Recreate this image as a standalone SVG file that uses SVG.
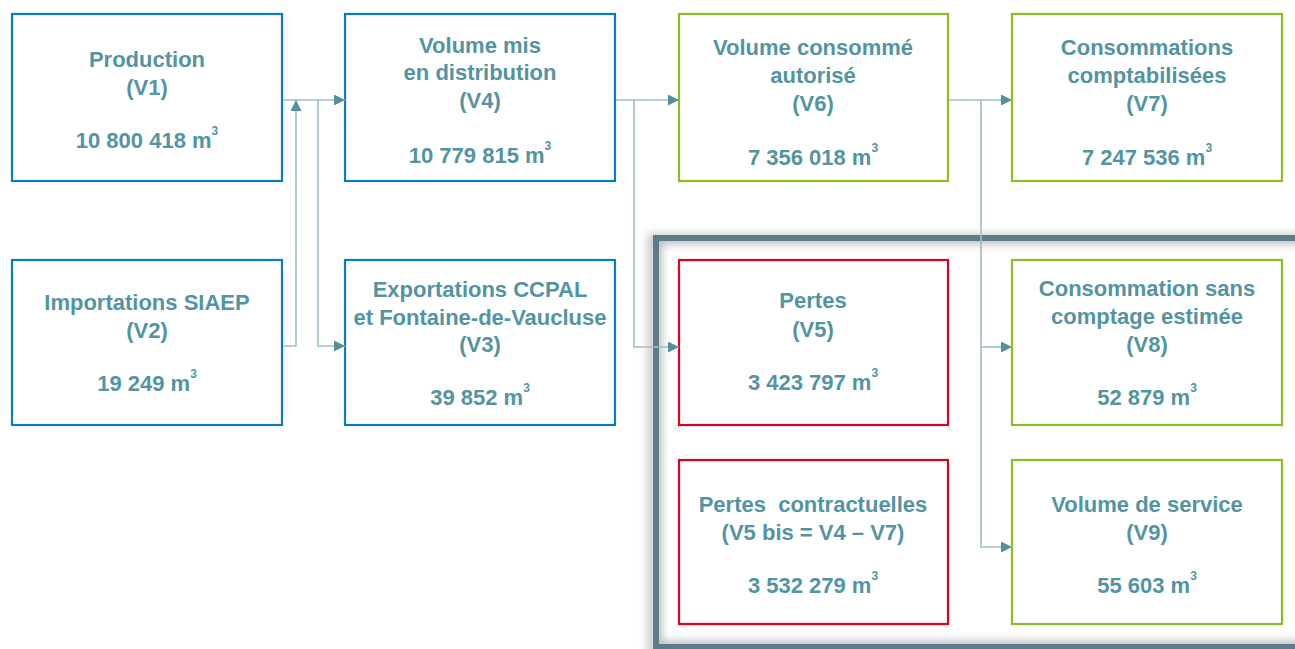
<svg xmlns="http://www.w3.org/2000/svg" width="1295" height="649" viewBox="0 0 1295 649">
<style>
.box{fill:#fff;stroke-width:2.2}
.blue{stroke:#0a7cc1}
.green{stroke:#8cbb25}
.red{stroke:#e2001a}
text{font-family:"Liberation Sans",Arial,sans-serif;font-size:22px;font-weight:bold;fill:#5294a1;text-anchor:middle}
.sup{font-size:12px}
.con{fill:none;stroke:#9cc0c8;stroke-width:1.6}
</style>
<defs>
<marker id="ah" markerUnits="userSpaceOnUse" markerWidth="13" markerHeight="13" refX="11" refY="5.5" orient="auto">
<path d="M0,0 L11,5.5 L0,11 Z" fill="#54909c"/>
</marker>
<filter id="blur" x="-10%" y="-10%" width="120%" height="120%"><feGaussianBlur stdDeviation="4"/></filter>
<clipPath id="inner"><rect x="659" y="241" width="640" height="403"/></clipPath>
<clipPath id="outer"><path d="M0,0 H1295 V649 H0 Z M656,238 H1300 V650 H656 Z" clip-rule="evenodd"/></clipPath>
</defs>
<rect width="1295" height="649" fill="#fff"/>
<g id="frame">
<rect x="652" y="238" width="660" height="420" fill="none" stroke="#999" stroke-width="8" filter="url(#blur)" clip-path="url(#outer)" opacity="0.6"/>
<rect x="656" y="238" width="660" height="409" fill="#fff" stroke="none"/>
<rect x="656" y="238" width="660" height="409" fill="none" stroke="#bbb" stroke-width="12" filter="url(#blur)" clip-path="url(#inner)"/>
<rect x="656" y="238" width="660" height="409" fill="none" stroke="#5d7b89" stroke-width="6"/>
</g>
<g id="v1">
<rect class="box blue" x="12" y="14" width="270" height="167"/>
<text x="147" y="67">Production</text>
<text x="147" y="95">(V1)</text>
<text x="147" y="148">10 800 418 m<tspan class="sup" dy="-13">3</tspan></text>
</g>
<g id="v2">
<rect class="box blue" x="12" y="260" width="270" height="165"/>
<text x="147" y="310">Importations SIAEP</text>
<text x="147" y="338">(V2)</text>
<text x="147" y="391">19 249 m<tspan class="sup" dy="-13">3</tspan></text>
</g>
<g id="v4">
<rect class="box blue" x="345" y="14" width="270" height="167"/>
<text x="480" y="53">Volume mis</text>
<text x="480" y="80">en distribution</text>
<text x="480" y="108">(V4)</text>
<text x="480" y="163">10 779 815 m<tspan class="sup" dy="-13">3</tspan></text>
</g>
<g id="v3">
<rect class="box blue" x="345" y="260" width="270" height="165"/>
<text x="480" y="297">Exportations CCPAL</text>
<text x="480" y="325">et Fontaine-de-Vaucluse</text>
<text x="480" y="352">(V3)</text>
<text x="480" y="405">39 852 m<tspan class="sup" dy="-13">3</tspan></text>
</g>
<g id="v6">
<rect class="box green" x="679" y="14" width="269" height="167"/>
<text x="813" y="55">Volume consommé</text>
<text x="813" y="83">autorisé</text>
<text x="813" y="111">(V6)</text>
<text x="813" y="165">7 356 018 m<tspan class="sup" dy="-13">3</tspan></text>
</g>
<g id="v7">
<rect class="box green" x="1012" y="14" width="270" height="167"/>
<text x="1147" y="55">Consommations</text>
<text x="1147" y="83">comptabilisées</text>
<text x="1147" y="111">(V7)</text>
<text x="1147" y="165">7 247 536 m<tspan class="sup" dy="-13">3</tspan></text>
</g>
<g id="v5">
<rect class="box red" x="679" y="260" width="269" height="165"/>
<text x="813" y="308">Pertes</text>
<text x="813" y="337">(V5)</text>
<text x="813" y="390">3 423 797 m<tspan class="sup" dy="-13">3</tspan></text>
</g>
<g id="v8">
<rect class="box green" x="1012" y="260" width="270" height="165"/>
<text x="1147" y="296">Consommation sans</text>
<text x="1147" y="324">comptage estimée</text>
<text x="1147" y="352">(V8)</text>
<text x="1147" y="405">52 879 m<tspan class="sup" dy="-13">3</tspan></text>
</g>
<g id="v5bis">
<rect class="box red" x="679" y="460" width="269" height="164"/>
<text x="813" y="512" xml:space="preserve">Pertes  contractuelles</text>
<text x="813" y="540">(V5 bis = V4 – V7)</text>
<text x="813" y="593">3 532 279 m<tspan class="sup" dy="-13">3</tspan></text>
</g>
<g id="v9">
<rect class="box green" x="1012" y="460" width="270" height="164"/>
<text x="1147" y="512">Volume de service</text>
<text x="1147" y="540">(V9)</text>
<text x="1147" y="593">55 603 m<tspan class="sup" dy="-13">3</tspan></text>
</g>
<g id="connectors">
<path class="con" d="M283,100 H345" marker-end="url(#ah)"/>
<path class="con" d="M283,346 H296 V100" marker-end="url(#ah)"/>
<path class="con" d="M318,100 V346 H345" marker-end="url(#ah)"/>
<path class="con" d="M616,100 H679" marker-end="url(#ah)"/>
<path class="con" d="M634,100 V347 H679" marker-end="url(#ah)"/>
<path class="con" d="M949,100 H1012" marker-end="url(#ah)"/>
<path class="con" d="M981,100 V547 H1012" marker-end="url(#ah)"/>
<path class="con" d="M981,347 H1012" marker-end="url(#ah)"/>
</g>
</svg>
